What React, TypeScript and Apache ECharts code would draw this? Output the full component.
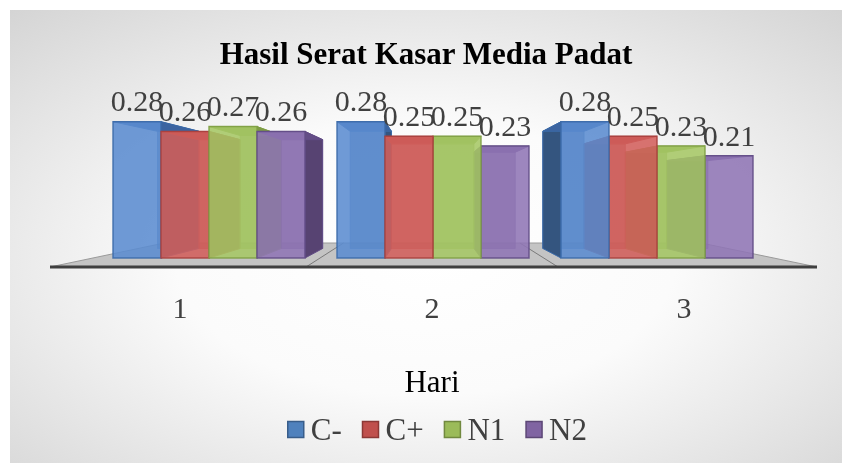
import React, { useEffect, useRef } from "react";
import * as echarts from "echarts";

const categories = ["1", "2", "3"];
const seriesNames = ["C-", "C+", "N1", "N2"];
const cMinus = [0.28, 0.28, 0.28];
const cPlus = [0.26, 0.25, 0.25];
const n1 = [0.27, 0.25, 0.23];
const n2 = [0.26, 0.23, 0.21];
const seriesValues = [cMinus, cPlus, n1, n2];

const palette = [
  { front: "#5b8cd0", stroke: "#3b6aa8", side: "#34557f", top: "#3c64a0", legend: "#4f81bd", legendBorder: "#385d8a" },
  { front: "#d3605c", stroke: "#a8403d", side: "#8a3331", top: "#a03c3a", legend: "#c0504d", legendBorder: "#8c3836" },
  { front: "#a6c765", stroke: "#7f9f44", side: "#6d8a36", top: "#7e9c45", legend: "#9bbb59", legendBorder: "#71893f" },
  { front: "#8f75b5", stroke: "#624c86", side: "#574372", top: "#634d86", legend: "#8064a2", legendBorder: "#5c4776" },
];

const FONT = "'Liberation Serif', 'Times New Roman', serif";
const VP = [421, 180]; // vanishing point (chart px)
const DEPTH = 0.14;

export default function App() {
  const ref = useRef<HTMLDivElement>(null);
  useEffect(() => {
    if (!ref.current) return;
    const chart = echarts.init(ref.current, null, { renderer: "svg" });

    const back = (p: number[]) => [p[0] + DEPTH * (VP[0] - p[0]), p[1] + DEPTH * (VP[1] - p[1])];

    const makeRender = (sIdx: number) => (params: any, api: any) => {
      const cat = api.value(0);
      const val = api.value(1);
      const band = api.size([1, 0])[0];
      const barW = band * (48 / 224);
      const groupW = barW * 4;
      const base = api.coord([cat, 0]);
      const topP = api.coord([cat, val]);
      const x1 = base[0] - groupW / 2 + sIdx * barW;
      const x2 = x1 + barW;
      const yB = base[1];
      const yT = topP[1];
      const c = palette[sIdx];
      const cx = (x1 + x2) / 2;
      const order = (2000 - Math.round(Math.abs(cx - VP[0]))) * 5;
      const bTL = back([x1, yT]);
      const bTR = back([x2, yT]);
      const bBL = back([x1, yB]);
      const bBR = back([x2, yB]);
      const children: any[] = [];
      children.push({
        type: "polygon",
        z2: order,
        shape: { points: [bTL, bTR, bBR, bBL] },
        style: { fill: c.side, opacity: 0.6, stroke: c.stroke, lineWidth: 1 },
      });
      if (x2 < VP[0]) {
        children.push({
          type: "polygon",
          z2: order + 1,
          shape: { points: [[x2, yT], bTR, bBR, [x2, yB]] },
          style: { fill: c.side, stroke: c.stroke, lineWidth: 1 },
        });
      } else if (x1 > VP[0]) {
        children.push({
          type: "polygon",
          z2: order + 1,
          shape: { points: [[x1, yT], bTL, bBL, [x1, yB]] },
          style: { fill: c.side, stroke: c.stroke, lineWidth: 1 },
        });
      }
      children.push({
        type: "polygon",
        z2: order + 2,
        shape: { points: [[x1, yT], [x2, yT], bTR, bTL] },
        style: { fill: c.top, stroke: c.stroke, lineWidth: 1 },
      });
      children.push({
        type: "rect",
        z2: order + 3,
        shape: { x: x1, y: yT, width: barW, height: yB - yT },
        style: { fill: c.front, opacity: 0.88, stroke: c.stroke, lineWidth: 1.5 },
        textContent: {
          z2: 20000,
          style: {
            text: String(val),
            font: `30px ${FONT}`,
            fill: "#404040",
          },
        },
        textConfig: { position: "top", distance: 5 },
      });
      return { type: "group", children };
    };

    const series = seriesValues.map((vals, sIdx) => ({
      type: "custom",
      name: seriesNames[sIdx],
      xAxisIndex: 0,
      yAxisIndex: 0,
      data: vals.map((v, i) => [i, v]),
      encode: { x: 0, y: 1 },
      itemStyle: { color: palette[sIdx].legend },
      renderItem: makeRender(sIdx),
    }));

    // Floor decoration (chart px)
    const floorFront = 257;
    const floorBack = 233;
    const floorL = 40;
    const floorR = 807;
    const bk = (x: number) => x + 0.3 * (VP[0] - x);

    chart.setOption({
      animation: false,
      backgroundColor: {
        type: "radial",
        x: 0.5,
        y: 0.55,
        r: 1.0,
        colorStops: [
          { offset: 0, color: "#ffffff" },
          { offset: 0.3, color: "#fbfbfb" },
          { offset: 1, color: "#bebebe" },
        ],
      },
      title: {
        text: "Hasil Serat Kasar Media Padat",
        left: "center",
        top: 23,
        textStyle: { fontFamily: FONT, fontWeight: "bold", fontSize: 31, color: "#000" },
      },
      legend: {
        data: seriesNames.map((n, i) => ({
          name: n,
          icon: "rect",
          itemStyle: { color: palette[i].legend, borderColor: palette[i].legendBorder, borderWidth: 1.5 },
        })),
        bottom: 13,
        left: 272,
        itemWidth: 16,
        itemHeight: 16,
        itemGap: 20,
        textStyle: { fontFamily: FONT, fontSize: 31, color: "#404040", padding: [0, 0, 0, 2] },
      },
      grid: [
        { left: 87, width: 672, top: 102, bottom: 205 },
        { left: 44, width: 756, top: 102, bottom: 205 },
      ],
      xAxis: [
        { type: "category", gridIndex: 0, data: categories, show: false },
        {
          type: "category",
          gridIndex: 1,
          data: categories,
          axisLine: { show: false },
          axisTick: { show: false },
          axisLabel: { margin: 34, fontFamily: FONT, fontSize: 30, color: "#404040" },
          name: "Hari",
          nameLocation: "middle",
          nameGap: 108,
          nameTextStyle: { fontFamily: FONT, fontSize: 31, color: "#000" },
        },
      ],
      yAxis: [
        { type: "value", gridIndex: 0, min: 0, max: 0.3, show: false },
        { type: "value", gridIndex: 1, min: 0, max: 0.3, show: false },
      ],
      graphic: [
        {
          type: "polygon",
          z: 1,
          shape: {
            points: [
              [floorL, floorFront],
              [floorR, floorFront],
              [bk(floorR), floorBack],
              [bk(floorL), floorBack],
            ],
          },
          style: { fill: "#c4c4c4", stroke: "#9a9a9a", lineWidth: 1 },
        },
        {
          type: "line",
          z: 1,
          shape: { x1: 296, y1: floorFront, x2: bk(296), y2: floorBack },
          style: { stroke: "#7a7a7a", lineWidth: 1 },
        },
        {
          type: "line",
          z: 1,
          shape: { x1: 548, y1: floorFront, x2: bk(548), y2: floorBack },
          style: { stroke: "#7a7a7a", lineWidth: 1 },
        },
        {
          type: "line",
          z: 1,
          shape: { x1: floorL, y1: floorFront, x2: floorR, y2: floorFront },
          style: { stroke: "#3f3f3f", lineWidth: 3 },
        },
      ],
      series,
    });
    return () => chart.dispose();
  }, []);
  return (
    <div
      ref={ref}
      style={{ position: "fixed", left: 10, top: 10, width: 832, height: 453 }}
    />
  );
}
